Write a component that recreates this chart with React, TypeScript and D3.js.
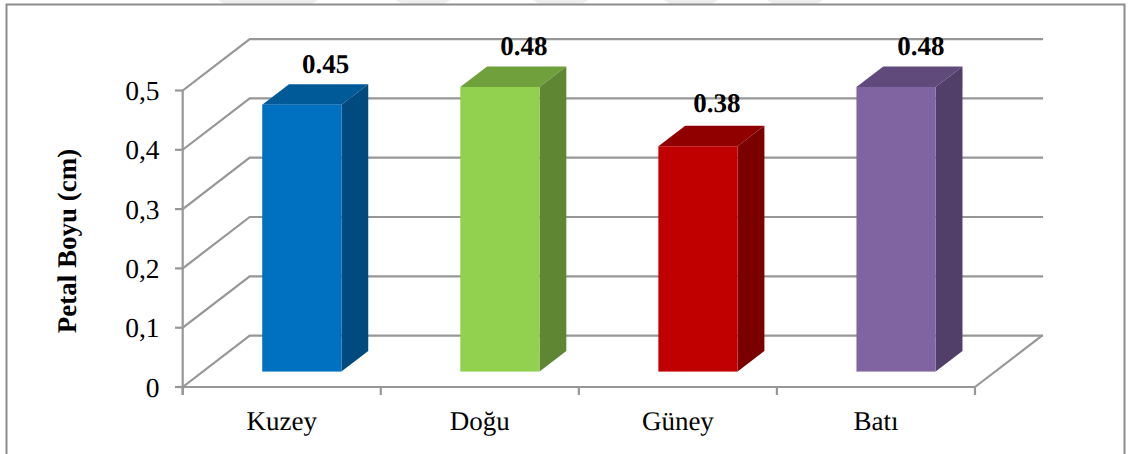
import React from "react";
import * as d3 from "d3";

const categories = ["Kuzey", "Doğu", "Güney", "Batı"];
const petalLengths = [0.45, 0.48, 0.38, 0.48];
const valueLabels = ["0.45", "0.48", "0.38", "0.48"];
const yTicks = [0, 0.1, 0.2, 0.3, 0.4, 0.5];
const yTickLabels = ["0", "0,1", "0,2", "0,3", "0,4", "0,5"];
const frontColors = ["#0070c0", "#92d050", "#c00000", "#8064a2"];
const topColors = ["#005a98", "#6fa03c", "#900000", "#604a7b"];
const sideColors = ["#004a80", "#5f8733", "#7a0000", "#523f69"];

// Hand-placed data labels: offset from the band centre and from the bar's rear top edge.
const labelShiftX = [44, 44, 39, 45];
const labelShiftY = [-11.5, -11, -14, -11];
// Faint grey shapes showing above the frame: start and end x of each.
const topSmudges = [[218, 318], [396, 450], [533, 588], [664, 718], [767, 823]];

const GRID = "#979797";
const SERIF = "'Liberation Serif', serif";

// Oblique projection: depth 0 is the front edge of the floor, depth 1 the back wall.
const depth = d3.scaleLinear().domain([0, 1]).range([0, 1]);
const depthX = (d: number) => depth(d) * 67;
const depthY = (d: number) => depth(d) * -51.4;

const x = d3.scaleBand<string>().domain(categories).range([182.7, 975]).paddingInner(0).paddingOuter(0);
const y = d3.scaleLinear().domain([0, 0.5]).range([387, 90.5]);

const BAR_FRONT = 0.3;
const BAR_BACK = 0.7;
const BAR_WIDTH = x.bandwidth() * 0.4;

const poly = (pts: [number, number][]) => d3.line()(pts) + "Z";

export default function App() {
  const [x0, x1] = x.range();
  const wallRight = x1 + depthX(1);
  return (
    <svg
      width={1129}
      height={454}
      textRendering="geometricPrecision"
      style={{ position: "absolute", left: 0, top: 0, background: "#fff", fontFamily: SERIF }}
    >
      {topSmudges.map(([a, b]) => (
        <path key={a} d={`M${a},0H${b}L${b - 6},4H${a + 6}Z`} fill="#eeeeee" />
      ))}

      {/* outer frame, open along the bottom edge */}
      <path d="M6.5,454V4.5H1124.5V454" fill="none" stroke="#8c8c8c" strokeWidth={2} />

      {/* back wall gridlines and side wall diagonals */}
      {yTicks.map((t) => (
        <g key={t} stroke={GRID} strokeWidth={2.2} fill="none">
          <path
            strokeLinecap="square"
            d={d3.line()([[x0, y(t)], [x0 + depthX(1), y(t) + depthY(1)], [wallRight, y(t) + depthY(1)]]) ?? ""}
          />
          <line x1={175} x2={x0} y1={y(t)} y2={y(t)} />
        </g>
      ))}

      {/* vertical axis, floor front edge, category ticks, right floor edge */}
      <g stroke={GRID} strokeWidth={2.2} fill="none">
        <line x1={x0} x2={x0} y1={y(0.5)} y2={395} />
        <line x1={x0} x2={x1} y1={y(0)} y2={y(0)} />
        <line x1={x1} x2={wallRight} y1={y(0)} y2={y(0) + depthY(1)} />
        {categories.map((c) => (
          <line key={c} x1={x(c)} x2={x(c)} y1={y(0)} y2={395} />
        ))}
        <line x1={x1} x2={x1} y1={y(0)} y2={395} />
      </g>

      {/* y axis labels */}
      {yTicks.map((t, i) => (
        <text key={t} x={159.5} y={y(t)} dy={9.5} textAnchor="end" fontSize={27.5} fill="#000">
          {yTickLabels[i]}
        </text>
      ))}

      <text
        transform="translate(75.5,241) rotate(-90)"
        textAnchor="middle"
        fontSize={27}
        fontWeight="bold"
        fill="#000"
      >
        Petal Boyu (cm)
      </text>

      {/* bars: top, side and front faces, each with its value label */}
      {categories.map((c, i) => {
        const cx = (x(c) ?? 0) + x.bandwidth() / 2;
        const l = cx - BAR_WIDTH / 2 + depthX(BAR_FRONT);
        const r = cx + BAR_WIDTH / 2 + depthX(BAR_FRONT);
        const b = y(0) + depthY(BAR_FRONT);
        const h = y(0) - y(petalLengths[i]);
        const t = b - h;
        const dx = depthX(BAR_BACK) - depthX(BAR_FRONT);
        const dy = depthY(BAR_BACK) - depthY(BAR_FRONT);
        return (
          <g key={c}>
            <path d={poly([[l, t], [r, t], [r + dx, t + dy], [l + dx, t + dy]])} fill={topColors[i]} />
            <path d={poly([[r, t], [r + dx, t + dy], [r + dx, b + dy], [r, b]])} fill={sideColors[i]} />
            <rect x={l} y={t} width={BAR_WIDTH} height={h} fill={frontColors[i]} />
            <text
              x={cx + labelShiftX[i]}
              y={t + dy + labelShiftY[i]}
              textAnchor="middle"
              fontSize={27}
              fontWeight="bold"
              fill="#000"
            >
              {valueLabels[i]}
            </text>
          </g>
        );
      })}

      {/* category labels */}
      {categories.map((c) => (
        <text key={c} x={(x(c) ?? 0) + x.bandwidth() / 2} y={430} textAnchor="middle" fontSize={27} fill="#000">
          {c}
        </text>
      ))}
    </svg>
  );
}
